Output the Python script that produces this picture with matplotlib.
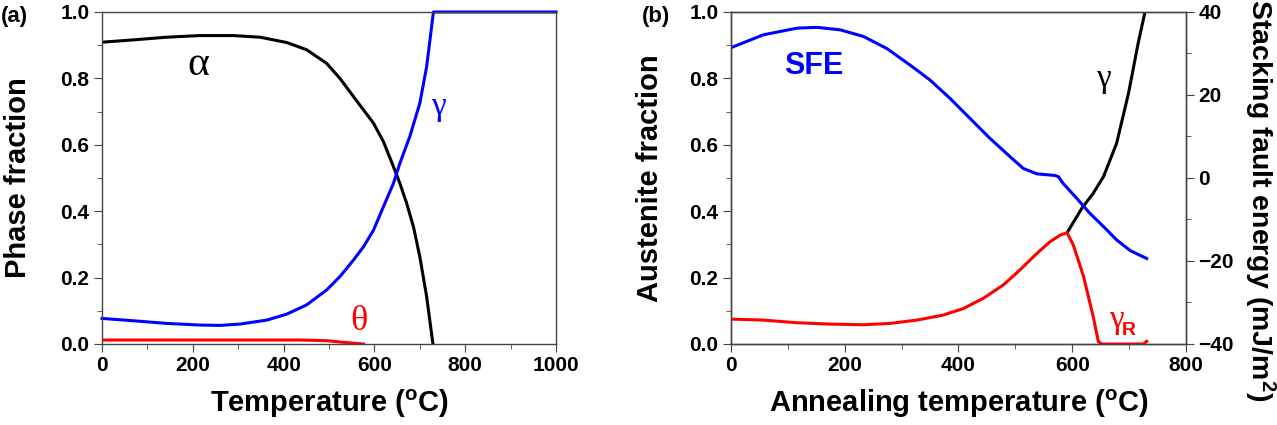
import matplotlib
matplotlib.use("Agg")
import matplotlib.pyplot as plt

plt.rcParams["font.family"] = ["Liberation Sans", "DejaVu Sans"]
plt.rcParams["font.weight"] = "bold"
plt.rcParams["mathtext.fontset"] = "custom"
plt.rcParams["mathtext.rm"] = "Liberation Sans:bold"
plt.rcParams["mathtext.default"] = "rm"

# panel (a): phase fractions vs temperature
a_alpha_t = [0, 69, 142, 216, 289, 348, 407, 451, 495, 524, 554, 576, 598, 620, 642,
             656, 671, 686, 700, 715, 726, 729]
a_alpha = [0.909, 0.916, 0.924, 0.929, 0.929, 0.924, 0.908, 0.886, 0.845, 0.800, 0.745,
           0.705, 0.665, 0.609, 0.534, 0.484, 0.424, 0.353, 0.263, 0.143, 0.030, 0.0]
a_gamma_t = [0, 69, 142, 216, 260, 304, 363, 407, 451, 495, 524, 554, 576, 598, 620,
             642, 656, 678, 700, 715, 730, 1000]
a_gamma = [0.077, 0.070, 0.062, 0.057, 0.056, 0.060, 0.072, 0.090, 0.118, 0.163, 0.203,
           0.253, 0.293, 0.343, 0.414, 0.484, 0.544, 0.625, 0.725, 0.835, 1.0, 1.0]
a_theta_t = [0, 216, 436, 495, 524, 550, 576]
a_theta = [0.012, 0.012, 0.012, 0.010, 0.006, 0.003, 0.0]

# panel (b): austenite fraction and SFE vs annealing temperature
b_gr_t = [0, 57, 116, 174, 233, 280, 327, 373, 409, 444, 479, 508, 538, 561, 579, 591,
          602, 620, 637, 646, 652, 725, 731]
b_gr = [0.075, 0.072, 0.064, 0.060, 0.058, 0.062, 0.072, 0.087, 0.107, 0.138, 0.178,
        0.223, 0.273, 0.308, 0.328, 0.335, 0.298, 0.203, 0.082, 0.007, 0.0, 0.0, 0.008]
b_gamma_t = [591, 617, 637, 655, 678, 699, 716, 728]
b_gamma = [0.335, 0.409, 0.454, 0.504, 0.604, 0.755, 0.906, 1.0]
b_sfe_t = [0, 57, 116, 151, 192, 233, 274, 315, 350, 385, 420, 455, 491, 514, 538, 570,
           576, 584, 608, 631, 655, 678, 702, 731]
b_sfe = [31.4, 34.5, 36.1, 36.3, 35.7, 34.1, 31.2, 27.2, 23.6, 19.2, 14.4, 9.6, 5.1, 2.3,
         1.0, 0.6, 0.3, -1.3, -4.9, -8.5, -11.7, -14.9, -17.5, -19.4]

fig = plt.figure(figsize=(12.77, 4.25), dpi=100)
ax1 = fig.add_axes([0.0799, 0.1906, 0.3555, 0.7812])
ax2 = fig.add_axes([0.5724, 0.1906, 0.3563, 0.7812])

spine_c = "#444444"
lw = 2.2
tick_fs = 15
label_fs = 21


def style_spines(ax):
    for s in ax.spines.values():
        s.set_color(spine_c)
        s.set_linewidth(1.0)
    ax.tick_params(which="both", direction="out", color=spine_c, labelsize=tick_fs, pad=3)
    ax.tick_params(which="major", length=6)
    ax.tick_params(which="minor", length=3.5)


for ax in (ax1, ax2):
    style_spines(ax)
    ax.tick_params(which="both", top=False, right=False)
    ax.set_ylim(0, 1)
    ax.set_yticks([0, 0.2, 0.4, 0.6, 0.8, 1.0])
    ax.set_yticks([0.1, 0.3, 0.5, 0.7, 0.9], minor=True)
    ax.set_yticklabels(["0.0", "0.2", "0.4", "0.6", "0.8", "1.0"])

ax1.plot(a_alpha_t, a_alpha, color="black", lw=lw)
ax1.plot(a_gamma_t, a_gamma, color="blue", lw=lw, clip_on=False)
ax1.plot(a_theta_t, a_theta, color="red", lw=lw)
ax1.set_xlim(0, 1000)
ax1.set_xticks(range(0, 1001, 200))
ax1.set_xticks(range(100, 1000, 200), minor=True)
ax1.set_xlabel(r"Temperature ($^\mathrm{o}$C)", fontsize=label_fs, fontweight="bold")
ax1.set_ylabel("Phase fraction", fontsize=label_fs, fontweight="bold")
ax1.xaxis.set_label_coords(0.5, -0.13)
ax1.yaxis.set_label_coords(-0.155, 0.5)
ax1.text(212, 0.84, "α", family="Liberation Serif", fontweight="normal", fontsize=30,
         ha="center", va="center", color="black")
ax1.text(741, 0.715, "γ", family="Liberation Serif", fontweight="normal", fontsize=24,
         ha="center", va="center", color="blue")
ax1.text(567, 0.067, "θ", family="Liberation Serif", fontweight="normal", fontsize=26,
         ha="center", va="center", color="red")
fig.text(0.001, 0.985, "(a)", fontsize=16, fontweight="bold", va="top")

ax2.plot(b_gr_t, b_gr, color="red", lw=lw, zorder=3)
ax2.plot(b_gamma_t, b_gamma, color="black", lw=lw, zorder=2)
ax2.set_xlim(0, 800)
ax2.set_xticks(range(0, 801, 200))
ax2.set_xticks(range(100, 800, 200), minor=True)
ax2.set_xlabel(r"Annealing temperature ($^\mathrm{o}$C)", fontsize=label_fs, fontweight="bold")
ax2.set_ylabel("Austenite fraction", fontsize=label_fs, fontweight="bold")
ax2.xaxis.set_label_coords(0.5, -0.13)
ax2.yaxis.set_label_coords(-0.148, 0.5)
ax2.text(655, 0.80, "γ", family="Liberation Serif", fontweight="normal", fontsize=24,
         ha="center", va="center", color="black")
ax2.text(677, 0.072, "γ", family="Liberation Serif", fontweight="normal", fontsize=24,
         ha="center", va="center", color="red")
ax2.text(700, 0.042, "R", fontsize=14, fontweight="bold", ha="center", va="center",
         color="red")
ax2.text(145, 0.837, "SFE", fontsize=22, fontweight="bold", ha="center", va="center",
         color="blue")
fig.text(0.503, 0.985, "(b)", fontsize=16, fontweight="bold", va="top")

ax3 = ax2.twinx()
ax3.plot(b_sfe_t, b_sfe, color="blue", lw=lw)
ax3.set_ylim(-40, 40)
ax3.set_yticks([-40, -20, 0, 20, 40])
ax3.set_yticks([-30, -10, 10, 30], minor=True)
style_spines(ax3)
ax3.set_ylabel(r"Stacking fault energy (mJ/m$^2$)", fontsize=20.5, fontweight="bold",
               rotation=-90)
ax3.yaxis.set_label_coords(1.2, 0.434)

fig.savefig("out.png", dpi=100)
